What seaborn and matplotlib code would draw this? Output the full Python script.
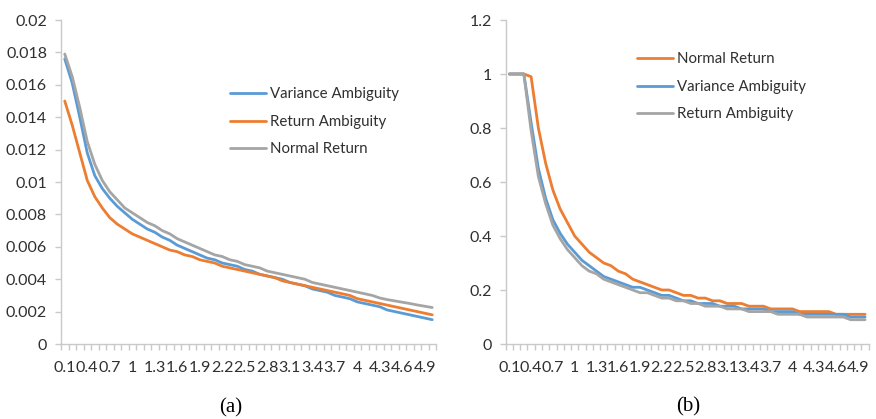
import matplotlib
matplotlib.use("Agg")
import matplotlib.pyplot as plt
import seaborn as sns
import numpy as np

# ---------------- data ----------------
categories = [0.1, 0.2, 0.3, 0.4, 0.5, 0.6, 0.7, 0.8, 0.9, 1.0,
              1.1, 1.2, 1.3, 1.4, 1.5, 1.6, 1.7, 1.8, 1.9, 2.0,
              2.1, 2.2, 2.3, 2.4, 2.5, 2.6, 2.7, 2.8, 2.9, 3.0,
              3.1, 3.2, 3.3, 3.4, 3.5, 3.6, 3.7, 3.8, 3.9, 4.0,
              4.1, 4.2, 4.3, 4.4, 4.5, 4.6, 4.7, 4.8, 4.9, 5.0]
tick_values = [0.1, 0.4, 0.7, 1.0, 1.3, 1.6, 1.9, 2.2, 2.5, 2.8,
               3.1, 3.4, 3.7, 4.0, 4.3, 4.6, 4.9]
tick_labels = ["0.1", "0.4", "0.7", "1", "1.3", "1.6", "1.9", "2.2", "2.5",
               "2.8", "3.1", "3.4", "3.7", "4", "4.3", "4.6", "4.9"]

# panel (a)
a_variance_ambiguity = [
    .0176, .0161, .0140, .0118, .0104, .0096, .0090, .0085, .0081, .0077,
    .0074, .0071, .0069, .0066, .0064, .0061, .0059, .0057, .0055, .0053,
    .0052, .0050, .0049, .0048, .0046, .0045, .0043, .0042, .0041, .0040,
    .0038, .0037, .0036, .0034, .0033, .0032, .0030, .0029, .0028, .0026,
    .0025, .0024, .0023, .0021, .0020, .0019, .0018, .0017, .0016, .0015]
a_return_ambiguity = [
    .0150, .0135, .0118, .0101, .0091, .0084, .0078, .0074, .0071, .0068,
    .0066, .0064, .0062, .0060, .0058, .0057, .0055, .0054, .0052, .0051,
    .0050, .0048, .0047, .0046, .0045, .0044, .0043, .0042, .0041, .0039,
    .0038, .0037, .0036, .0035, .0034, .0033, .0032, .0031, .0030, .0028,
    .0027, .0026, .0025, .0024, .0023, .0022, .0021, .0020, .0019, .0018]
a_normal_return = [
    .0179, .0165, .0146, .0125, .0111, .0101, .0094, .0089, .0084, .0081,
    .0078, .0075, .0073, .0070, .0068, .0065, .0063, .0061, .0059, .0057,
    .0055, .0054, .0052, .0051, .0049, .0048, .0047, .0045, .0044, .0043,
    .0042, .0041, .0040, .0038, .0037, .0036, .0035, .0034, .0033, .0032,
    .0031, .0030, .00284, .00274, .00266, .00258, .0025, .00241, .00233, .00225]
a_yticks = [0, 0.002, 0.004, 0.006, 0.008, 0.01, 0.012, 0.014, 0.016, 0.018, 0.02]
a_ytick_labels = ["0", "0.002", "0.004", "0.006", "0.008", "0.01", "0.012",
                  "0.014", "0.016", "0.018", "0.02"]

# panel (b)
b_normal_return = [
    1.00, 1.00, 1.00, 0.99, 0.80, 0.67, 0.57, 0.50, 0.45, 0.40,
    0.37, 0.34, 0.32, 0.30, 0.29, 0.27, 0.26, 0.24, 0.23, 0.22,
    0.21, 0.20, 0.20, 0.19, 0.18, 0.18, 0.17, 0.17, 0.16, 0.16,
    0.15, 0.15, 0.15, 0.14, 0.14, 0.14, 0.13, 0.13, 0.13, 0.13,
    0.12, 0.12, 0.12, 0.12, 0.12, 0.11, 0.11, 0.11, 0.11, 0.11]
b_variance_ambiguity = [
    1.00, 1.00, 1.00, 0.82, 0.65, 0.54, 0.46, 0.41, 0.37, 0.34,
    0.31, 0.29, 0.27, 0.25, 0.24, 0.23, 0.22, 0.21, 0.21, 0.20,
    0.19, 0.18, 0.18, 0.17, 0.16, 0.16, 0.15, 0.15, 0.15, 0.14,
    0.14, 0.14, 0.13, 0.13, 0.13, 0.13, 0.12, 0.12, 0.12, 0.12,
    0.11, 0.11, 0.11, 0.11, 0.11, 0.11, 0.11, 0.10, 0.10, 0.10]
b_return_ambiguity = [
    1.00, 1.00, 1.00, 0.79, 0.62, 0.52, 0.44, 0.39, 0.35, 0.32,
    0.29, 0.27, 0.26, 0.24, 0.23, 0.22, 0.21, 0.20, 0.19, 0.19,
    0.18, 0.17, 0.17, 0.16, 0.16, 0.15, 0.15, 0.14, 0.14, 0.14,
    0.13, 0.13, 0.13, 0.12, 0.12, 0.12, 0.12, 0.11, 0.11, 0.11,
    0.11, 0.10, 0.10, 0.10, 0.10, 0.10, 0.10, 0.09, 0.09, 0.09]
b_yticks = [0, 0.2, 0.4, 0.6, 0.8, 1.0, 1.2]
b_ytick_labels = ["0", "0.2", "0.4", "0.6", "0.8", "1", "1.2"]

# ---------------- style ----------------
BLUE = "#5B9BD5"
ORANGE = "#ED7D31"
GRAY = "#A5A5A5"
AXIS_C = "#C9C9C9"
TEXT_C = "#303030"

sns.set_style("white")
plt.rcParams["font.family"] = ["Lato", "DejaVu Sans"]

W, H = 876, 419
fig = plt.figure(figsize=(W / 100, H / 100), dpi=100)
axA = fig.add_axes([61 / W, 75 / H, 375 / W, 324 / H])
axB = fig.add_axes([505.7 / W, 75 / H, 363 / W, 324 / H])

x = np.array(categories)
LW = 2.0

for vals, col, lab in [(a_variance_ambiguity, BLUE, "Variance Ambiguity"),
                       (a_return_ambiguity, ORANGE, "Return Ambiguity"),
                       (a_normal_return, GRAY, "Normal Return")]:
    sns.lineplot(x=x, y=vals, ax=axA, color=col, linewidth=LW, label=lab, sort=False)

for vals, col, lab in [(b_normal_return, ORANGE, "Normal Return"),
                       (b_variance_ambiguity, BLUE, "Variance Ambiguity"),
                       (b_return_ambiguity, GRAY, "Return Ambiguity")]:
    sns.lineplot(x=x, y=vals, ax=axB, color=col, linewidth=LW, label=lab, sort=False)

minor_pos = list(x - 0.05) + [x[-1] + 0.05]

for ax, yt, ytl, ylim in [(axA, a_yticks, a_ytick_labels, 0.02),
                          (axB, b_yticks, b_ytick_labels, 1.2)]:
    ax.set_xlim(x[0] - 0.05, x[-1] + 0.05)
    ax.set_ylim(0, ylim)
    ax.set_xticks(tick_values)
    ax.set_xticklabels(tick_labels)
    ax.set_xticks(minor_pos, minor=True)
    ax.set_yticks(yt)
    ax.set_yticklabels(ytl)
    ax.set_xlabel("")
    ax.set_ylabel("")
    for s in ["top", "right"]:
        ax.spines[s].set_visible(False)
    for s in ["left", "bottom"]:
        ax.spines[s].set_color(AXIS_C)
        ax.spines[s].set_linewidth(1.0)
    ax.tick_params(axis="x", which="major", length=0, pad=12,
                   labelsize=11.5, labelcolor=TEXT_C)
    ax.tick_params(axis="x", which="minor", length=4, width=1.0,
                   color=AXIS_C, direction="out", bottom=True)
    ax.tick_params(axis="y", length=4, width=1.0, color=AXIS_C,
                   direction="out", left=True, labelsize=11.5,
                   labelcolor=TEXT_C, pad=6)
    ax.set_facecolor("white")

leg_kw = dict(loc="upper left", frameon=False, fontsize=10.8, handlelength=2.4,
              handletextpad=0.27, labelspacing=0.9, borderpad=0, borderaxespad=0)
legA = axA.legend(bbox_to_anchor=(0.45, 0.792), **leg_kw)
legB = axB.legend(bbox_to_anchor=(0.362, 0.90), **leg_kw)
for leg in (legA, legB):
    for t in leg.get_texts():
        t.set_color(TEXT_C)

fig.text(231 / W, 1 - 408 / H, "(a)", family="Liberation Serif", fontsize=15,
         ha="center", va="center", color="black")
fig.text(688 / W, 1 - 407 / H, "(b)", family="Liberation Serif", fontsize=15,
         ha="center", va="center", color="black")

fig.savefig("out.png", dpi=100, facecolor="white")
